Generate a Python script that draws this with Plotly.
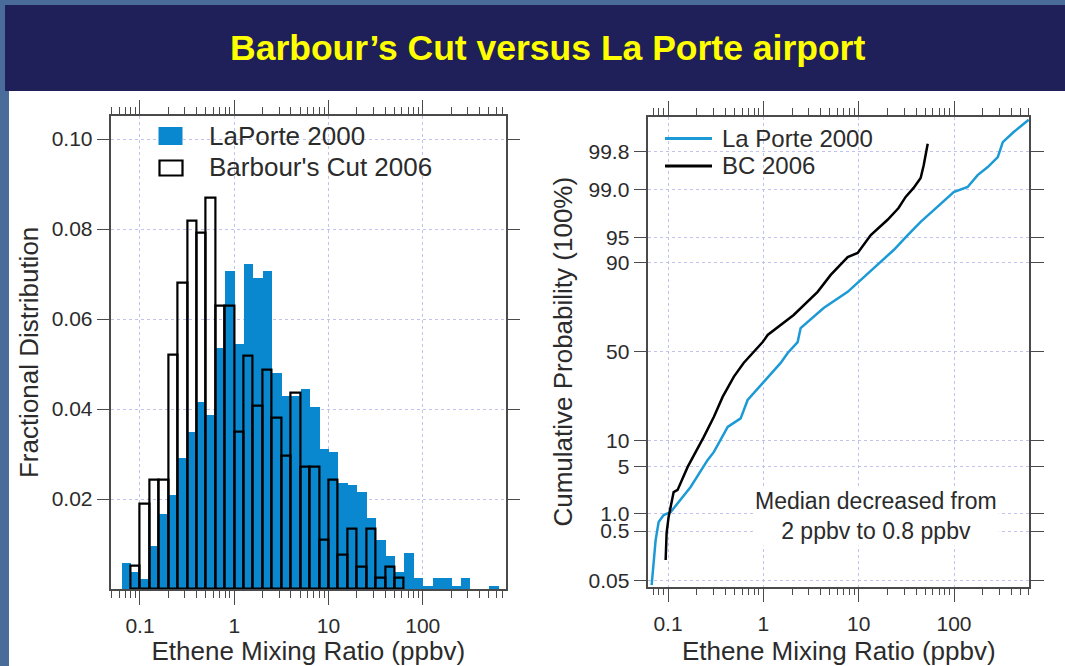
from statistics import NormalDist
import plotly.graph_objects as go

W, H = 1065, 666

# left panel: ethene histograms, 0.1-decade bins (ppbv)
bin_edges = [0.0631, 0.0794, 0.1, 0.126, 0.158, 0.2, 0.251, 0.316, 0.398, 0.501,
             0.631, 0.794, 1.0, 1.26, 1.58, 2.0, 2.51, 3.16, 3.98, 5.01,
             6.31, 7.94, 10.0, 12.6, 15.8, 20.0, 25.1, 31.6, 39.8, 50.1,
             63.1, 79.4, 100.0, 126.0, 158.0, 200.0, 251.0, 316.0, 398.0, 501.0, 631.0]
laporte_frac = [0.0059, 0.0039, 0.0022, 0.0097, 0.0167, 0.0209, 0.0291, 0.0350, 0.0417, 0.0387,
                0.0536, 0.0708, 0.0545, 0.0723, 0.0691, 0.0708, 0.0480, 0.0430, 0.0430, 0.0444,
                0.0404, 0.0311, 0.0304, 0.0236, 0.0232, 0.0217, 0.0158, 0.0110, 0.0074, 0.0039,
                0.0081, 0.0024, 0.0007, 0.0024, 0.0024, 0.0007, 0.0024, 0.0, 0.0, 0.0008]
bc_frac = [0.0, 0.0052, 0.0189, 0.0243, 0.0243, 0.0520, 0.0680, 0.0819, 0.0792, 0.0869,
           0.0630, 0.0630, 0.0350, 0.0519, 0.0407, 0.0488, 0.0380, 0.0296, 0.0437, 0.0272,
           0.0272, 0.0110, 0.0243, 0.0076, 0.0134, 0.0050, 0.0134, 0.0024, 0.0050, 0.0024,
           0.0, 0.0, 0.0, 0.0, 0.0, 0.0, 0.0, 0.0, 0.0, 0.0]

# right panel: cumulative probability curves (ppbv, percent)
lp_x = [0.0673, 0.0741, 0.0797, 0.0899, 0.1064, 0.1726, 0.2606, 0.303, 0.4227, 0.578,
        0.684, 0.984, 1.52, 1.80, 2.29, 2.46, 4.29, 7.67, 10.5, 15.8,
        23.3, 32.7, 44.7, 61.3, 99.3, 139.0, 177.0, 226.0, 288.0, 325.0, 423.0, 608.0]
lp_pct = [0.040, 0.34, 0.72, 0.95, 1.06, 2.6, 6.0, 7.5, 14.0, 16.9,
          24.4, 32.6, 43.6, 49.3, 55.5, 63.3, 73.5, 80.5, 84.9, 89.4,
          92.8, 95.3, 96.9, 97.9, 98.91, 99.10, 99.44, 99.60, 99.74, 99.87, 99.92, 99.957]
bc_x = [0.0944, 0.0966, 0.1014, 0.1145, 0.126, 0.1607, 0.2366, 0.303, 0.374, 0.491,
        0.621, 0.791, 0.984, 1.11, 1.52, 2.08, 3.71, 5.09, 7.67, 9.76,
        13.4, 20.1, 26.2, 31.1, 37.7, 44.7, 48.1, 53.0]
bc_pct = [0.138, 0.46, 0.88, 2.19, 2.35, 4.9, 11.0, 17.5, 25.8, 36.0,
          43.6, 49.8, 55.5, 59.5, 65.0, 70.1, 80.5, 86.5, 91.3, 92.2,
          95.3, 97.1, 98.05, 98.69, 99.07, 99.37, 99.63, 99.86]

prob_ticks = [0.05, 0.5, 1, 5, 10, 50, 90, 95, 99, 99.8]
prob_labels = ["0.05", "0.5", "1.0", "5", "10", "50", "90", "95", "99.0", "99.8"]
x_ticks = [0.1, 1, 10, 100]
x_labels = ["0.1", "1", "10", "100"]
frac_ticks = [0.02, 0.04, 0.06, 0.08, 0.10]
frac_labels = ["0.02", "0.04", "0.06", "0.08", "0.10"]

BLUE_BAR = "#0a88cf"
BLUE_LINE = "#1b9ad6"
FRAME = "#4a4a4a"
GRID = "#c2c2ee"
TXT = "#2b2b2b"
FONT = "Liberation Sans, Arial, sans-serif"

norm = NormalDist()


def probit(p):
    return norm.inv_cdf(p / 100.0)


def px(x):
    return x / W


def py(y):
    return 1 - y / H


def bars(heights):
    keep = [i for i, h in enumerate(heights) if h > 0]
    left = [bin_edges[i] for i in keep]
    width = [bin_edges[i + 1] - bin_edges[i] for i in keep]
    return left, width, [heights[i] for i in keep]


fig = go.Figure()

x0, w, h = bars(laporte_frac)
fig.add_trace(go.Bar(x=x0, y=h, width=w, offset=0, name="LaPorte 2000",
                     marker=dict(color=BLUE_BAR, line=dict(width=0)),
                     xaxis="x", yaxis="y"))
x0, w, h = bars(bc_frac)
fig.add_trace(go.Bar(x=x0, y=h, width=w, offset=0, name="Barbour's Cut 2006",
                     marker=dict(color="rgba(0,0,0,0)", line=dict(color="black", width=2.2)),
                     xaxis="x", yaxis="y"))

fig.add_trace(go.Scatter(x=lp_x, y=[probit(p) for p in lp_pct], mode="lines",
                         name="La Porte 2000", line=dict(color=BLUE_LINE, width=2.5),
                         xaxis="x2", yaxis="y2"))
fig.add_trace(go.Scatter(x=bc_x, y=[probit(p) for p in bc_pct], mode="lines",
                         name="BC 2006", line=dict(color="black", width=2.5),
                         xaxis="x2", yaxis="y2"))

minor_vals = [m * 10 ** e for e in range(-2, 3) for m in range(2, 10)]

axis_common = dict(
    showline=True, linecolor=FRAME, linewidth=1.5, mirror="allticks",
    ticks="outside", tickcolor=FRAME, tickwidth=1.3,
    showgrid=True, gridcolor=GRID, griddash="dot", gridwidth=1,
    zeroline=False, automargin=False,
    tickfont=dict(family=FONT, size=21, color=TXT),
)
xlog = dict(
    type="log", tickmode="array", tickvals=x_ticks, ticktext=x_labels, ticklen=14,
    ticklabelstandoff=3,
    minor=dict(tickvals=minor_vals, ticklen=7, ticks="outside", tickcolor=FRAME,
               tickwidth=1.2, showgrid=False),
    title=dict(text="Ethene Mixing Ratio (ppbv)", standoff=8,
               font=dict(family=FONT, size=26, color=TXT)),
)

fig.update_layout(
    width=W, height=H,
    template="none",
    margin=dict(l=0, r=0, t=0, b=0),
    paper_bgcolor="#4a6c9a",
    plot_bgcolor="white",
    showlegend=False,
    barmode="overlay",
    bargap=0,
    font=dict(family=FONT, color=TXT),
    xaxis=dict(**axis_common, **xlog, domain=[px(110.5), px(506)],
               range=[-1.3128, 2.8834], anchor="y"),
    yaxis=dict(**axis_common, domain=[py(589), py(115.8)], range=[0, 0.10516],
               tickmode="array", tickvals=frac_ticks, ticktext=frac_labels, ticklen=12,
               title=dict(text="Fractional Distribution", standoff=6,
                          font=dict(family=FONT, size=26, color=TXT)),
               anchor="x"),
    xaxis2=dict(**axis_common, **xlog, domain=[px(648.3), px(1029.3)],
                range=[-1.207, 2.790], anchor="y2"),
    yaxis2=dict(**axis_common, domain=[py(586.7), py(116.7)], range=[-3.376, 3.376],
                tickmode="array", tickvals=[probit(p) for p in prob_ticks],
                ticktext=prob_labels, ticklen=13,
                title=dict(text="Cumulative Probability (100%)", standoff=8,
                           font=dict(family=FONT, size=26, color=TXT)),
                anchor="x2"),
)

shapes = [
    # title band and white panel of the slide
    dict(type="rect", xref="paper", yref="paper", x0=px(5), x1=1.0, y0=py(91), y1=py(5),
         fillcolor="#1f1f59", line=dict(width=0), layer="below"),
    dict(type="rect", xref="paper", yref="paper", x0=px(9), x1=1.0, y0=0, y1=py(91),
         fillcolor="white", line=dict(width=0), layer="below"),
    # left legend swatches
    dict(type="rect", xref="paper", yref="paper", x0=px(158.5), x1=px(182.5),
         y0=py(145), y1=py(127), fillcolor=BLUE_BAR, line=dict(width=0)),
    dict(type="rect", xref="paper", yref="paper", x0=px(159.5), x1=px(182.5),
         y0=py(175.5), y1=py(160.5), fillcolor="white", line=dict(color="black", width=2.2)),
    # right legend lines
    dict(type="line", xref="paper", yref="paper", x0=px(665), x1=px(712),
         y0=py(138.5), y1=py(138.5), line=dict(color=BLUE_LINE, width=3)),
    dict(type="line", xref="paper", yref="paper", x0=px(665), x1=px(712),
         y0=py(166), y1=py(166), line=dict(color="black", width=3)),
]
fig.update_layout(shapes=shapes)

annotations = [
    dict(text="<b>Barbour’s Cut versus La Porte airport</b>", x=px(547), y=py(48),
         font=dict(family=FONT, size=35.5, color="#ffff00")),
    dict(text="LaPorte 2000", x=px(207), y=py(136), xanchor="left",
         font=dict(family=FONT, size=26, color=TXT)),
    dict(text="Barbour's Cut 2006", x=px(207), y=py(167), xanchor="left",
         font=dict(family=FONT, size=26, color=TXT)),
    dict(text="La Porte 2000", x=px(720), y=py(138), xanchor="left",
         font=dict(family=FONT, size=24, color=TXT)),
    dict(text="BC 2006", x=px(720), y=py(165), xanchor="left",
         font=dict(family=FONT, size=24, color=TXT)),
    dict(text="Median decreased from<br>2 ppbv to 0.8 ppbv", x=px(876), y=py(516),
         align="center", bgcolor="white",
         font=dict(family=FONT, size=23, color=TXT)),
]
for a in annotations:
    a.setdefault("xref", "paper")
    a.setdefault("yref", "paper")
    a.setdefault("showarrow", False)
    a.setdefault("xanchor", "center")
    a.setdefault("yanchor", "middle")
fig.update_layout(annotations=annotations)

# the page body has a default 8px margin; drop it so the figure sits at 0,0
fig.write_html("out.html", config={"displayModeBar": False},
               post_script="document.body.style.margin='0';")
